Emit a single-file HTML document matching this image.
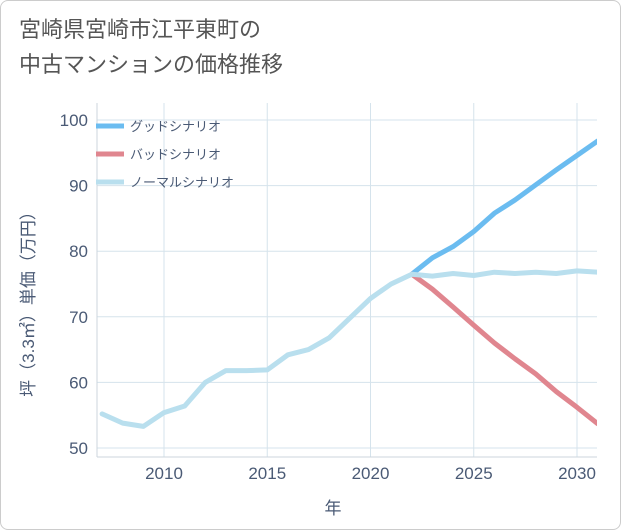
<!DOCTYPE html>
<html><head><meta charset="utf-8"><style>
html,body{margin:0;padding:0;background:#fff}
#wrap{position:relative;width:619px;height:528px;border:1px solid #ccc;border-radius:8px;background:#fff;overflow:hidden;font-family:"Liberation Sans","Noto Sans CJK JP",sans-serif}
#title{position:absolute;left:18px;top:11px;font-size:22px;line-height:35px;color:#555}
</style></head><body>
<div id="wrap">
<div id="title">宮崎県宮崎市江平東町の<br>中古マンションの価格推移</div>
<svg id="chart" width="621" height="530" style="position:absolute;left:-1px;top:-1px"></svg>
</div>
<script>
const years=[2007,2008,2009,2010,2011,2012,2013,2014,2015,2016,2017,2018,2019,2020,2021,2022,2023,2024,2025,2026,2027,2028,2029,2030,2031];
const normalValues=[55.2,53.8,53.3,55.4,56.4,60,61.8,61.8,61.9,64.2,65,66.8,69.8,72.8,75,76.5,76.2,76.6,76.3,76.8,76.6,76.8,76.6,77,76.8];
const futureYears=[2022,2023,2024,2025,2026,2027,2028,2029,2030,2031];
const goodValues=[76.5,79,80.7,83,85.8,87.8,90.1,92.4,94.6,96.8];
const badValues=[76.5,74.2,71.5,68.7,66,63.6,61.3,58.6,56.2,53.7];
const xTicks=[2010,2015,2020,2025,2030];
const yTicks=[50,60,70,80,90,100];
const legendLabels=["グッドシナリオ","バッドシナリオ","ノーマルシナリオ"];
const colors=["#6bbcf0","#e0868f","#b9dfee"];

const L=97,R=597,T=103,B=457;
const x=v=>164+(v-2010)*20.65;
const y=v=>120+(100-v)*6.56;
const svg=document.getElementById('chart');
const NS='http://www.w3.org/2000/svg';
function mk(t,a){const e=document.createElementNS(NS,t);for(const k in a)e.setAttribute(k,a[k]);svg.appendChild(e);return e;}
for(const t of xTicks){
 const g=mk('line',{x1:x(t),x2:x(t),y1:T,y2:B,stroke:'#d5e3ec','stroke-width':1});
 
 
 const lb=mk('text',{x:x(t),y:479,'text-anchor':'middle','font-size':17,fill:'#4a5a75'});
 lb.textContent=t;
 
 
}
for(const t of yTicks){
 const g=mk('line',{x1:L,x2:R,y1:y(t),y2:y(t),stroke:'#d5e3ec','stroke-width':1});
 
 
 const lb=mk('text',{x:88,y:y(t)+6,'text-anchor':'end','font-size':17,fill:'#4a5a75'});
 lb.textContent=t;
 
 
}
const ax=mk('line',{x1:L,x2:L,y1:T,y2:B,stroke:'#ccd6dd','stroke-width':1});


const bx=mk('line',{x1:L,x2:R,y1:B,y2:B,stroke:'#ccd6dd','stroke-width':1});


const xt=mk('text',{x:333,y:514,'text-anchor':'middle','font-size':17,fill:'#4a5a75'});
xt.textContent='年';


const yt=mk('text',{x:0,y:0,'text-anchor':'middle','font-size':17,fill:'#4a5a75',transform:'translate(34,300) rotate(-90)'});
yt.textContent='坪（3.3㎡）単価（万円）';


function line(xs,vs,c,name){
 const d=xs.map((v,i)=>(i?'L':'M')+x(v).toFixed(1)+','+y(vs[i]).toFixed(1)).join(' ');
 const p=mk('path',{d:d,fill:'none',stroke:c,'stroke-width':5,'stroke-linejoin':'round','stroke-linecap':'round','clip-path':'url(#clip)'});
 
 
}
const defs=mk('defs',{});
defs.innerHTML='<clipPath id="clip"><rect x="'+L+'" y="'+T+'" width="'+(R-L)+'" height="'+(B-T)+'"/></clipPath>';
line(futureYears,goodValues,colors[0],'good-scenario-line');
line(futureYears,badValues,colors[1],'bad-scenario-line');
line(years,normalValues,colors[2],'normal-scenario-line');
legendLabels.forEach((s,i)=>{
 const yy=126+i*28;
 const l=mk('line',{x1:96,x2:124,y1:yy,y2:yy,stroke:colors[i],'stroke-width':5});
 
 
 const t=mk('text',{x:130,y:yy+5,'font-size':13,fill:'#4a5a75'});
 t.textContent=s;
 
 
});
</script>
</body></html>
